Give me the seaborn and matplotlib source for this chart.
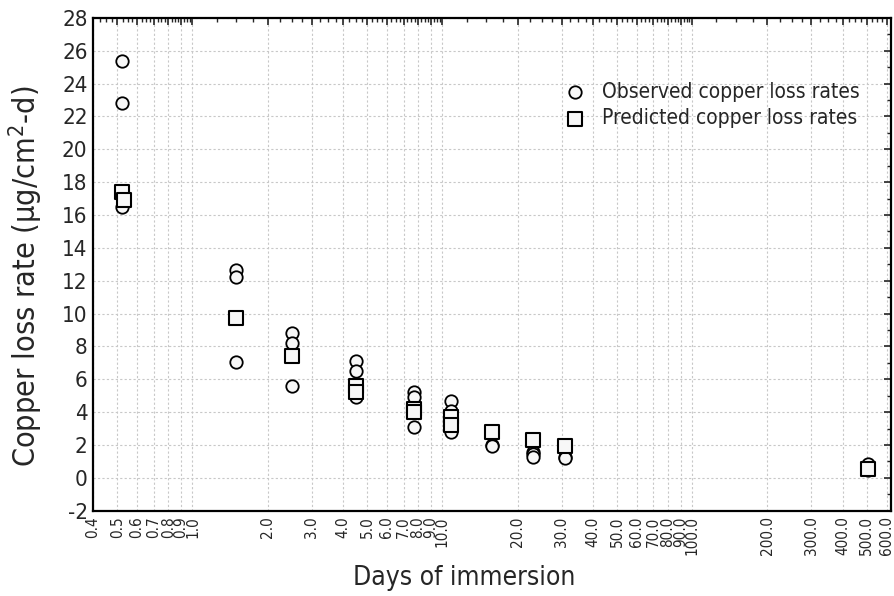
import numpy as np
import pandas as pd
import matplotlib
matplotlib.use("Agg")
import matplotlib.pyplot as plt
import matplotlib.ticker as mticker
import seaborn as sns

# Observed copper loss rates (ug/cm2-d) at each immersion time (days)
obs_days = [0.52, 0.52, 0.52,
            1.5, 1.5, 1.5,
            2.5, 2.5, 2.5,
            4.5, 4.5, 4.5,
            7.7, 7.7, 7.7,
            10.8, 10.8, 10.8,
            15.8, 15.8,
            23.0, 23.0, 23.0,
            31.0, 31.0,
            505.0, 505.0]
obs_rate = [25.4, 22.8, 16.5,
            12.65, 12.2, 7.05,
            8.8, 8.2, 5.6,
            7.1, 6.5, 4.9,
            5.2, 4.9, 3.1,
            4.7, 4.1, 2.8,
            2.0, 1.95,
            1.6, 1.45, 1.3,
            1.3, 1.2,
            0.85, 0.5]

# Model-predicted copper loss rates
pred_days = [0.52, 0.53, 1.5, 2.5, 4.5, 4.5, 7.7, 7.7, 10.8, 10.8,
             15.8, 23.0, 31.0, 505.0]
pred_rate = [17.4, 16.9, 9.75, 7.4, 5.6, 5.2, 4.2, 4.0, 3.7, 3.2,
             2.8, 2.3, 1.95, 0.55]

x_major = [0.4, 0.5, 0.6, 0.7, 0.8, 0.9, 1.0,
           2.0, 3.0, 4.0, 5.0, 6.0, 7.0, 8.0, 9.0, 10.0,
           20.0, 30.0, 40.0, 50.0, 60.0, 70.0, 80.0, 90.0, 100.0,
           200.0, 300.0, 400.0, 500.0, 600.0]
y_major = list(range(-2, 29, 2))

obs = pd.DataFrame({"days": obs_days, "rate": obs_rate})
pred = pd.DataFrame({"days": pred_days, "rate": pred_rate})

sns.set_style("white")
plt.rcParams["font.family"] = ["DejaVu Sans"]
plt.rcParams["font.stretch"] = "condensed"
plt.rcParams["axes.unicode_minus"] = False

fig = plt.figure(figsize=(8.95, 5.96), dpi=100)
ax = fig.add_axes([0.104, 0.143, 0.8915, 0.827])

ax.set_xscale("log")
ax.set_xlim(0.4, 625)
ax.set_ylim(-2, 28)

sns.scatterplot(data=obs, x="days", y="rate", ax=ax, marker="o", s=80,
                color="#f7f7f7", edgecolor="black", linewidth=1.3,
                label="Observed copper loss rates", zorder=3)
sns.scatterplot(data=pred, x="days", y="rate", ax=ax, marker="s", s=95,
                color="#f7f7f7", edgecolor="black", linewidth=1.5,
                label="Predicted copper loss rates", zorder=4)

# x ticks: labelled steps plus three minor ticks in each step
minor = []
for a, b in zip(x_major[:-1], x_major[1:]):
    step = (b - a) / 4
    minor += [a + k * step for k in (1, 2, 3)]
ax.xaxis.set_major_locator(mticker.FixedLocator(x_major))
ax.xaxis.set_minor_locator(mticker.FixedLocator(minor))
ax.xaxis.set_major_formatter(mticker.FixedFormatter([f"{v:.1f}" for v in x_major]))
ax.xaxis.set_minor_formatter(mticker.NullFormatter())
ax.set_yticks(y_major)
ax.yaxis.set_minor_locator(mticker.MultipleLocator(1))

ax.tick_params(axis="x", which="major", direction="in", length=5, width=1.2,
               labelsize=11, labelrotation=90, pad=4, top=True)
ax.tick_params(axis="x", which="minor", direction="in", length=3, width=1.0, top=True)
ax.tick_params(axis="y", which="major", direction="in", length=5, width=1.2,
               labelsize=16, pad=4, right=True)
ax.tick_params(axis="y", which="minor", direction="in", length=3, width=1.0, right=True)

ax.grid(True, which="major", color="#c8c8c8", linestyle=(0, (2, 2)), linewidth=0.8)
ax.set_axisbelow(True)
for sp in ax.spines.values():
    sp.set_visible(True)
    sp.set_color("black")
    sp.set_linewidth(1.6)

ax.set_xlabel("Days of immersion", fontsize=19)
ax.set_ylabel("Copper loss rate (µg/cm$^{2}$-d)", fontsize=22)
ax.xaxis.set_label_coords(0.465, -0.11)
ax.yaxis.set_label_coords(-0.06, 0.475)

leg = ax.legend(loc="upper left", bbox_to_anchor=(0.567, 0.887), frameon=False,
                fontsize=15, handletextpad=0.3, labelspacing=0.3,
                borderaxespad=0, markerscale=1.0)

fig.savefig("out.png", dpi=100)
